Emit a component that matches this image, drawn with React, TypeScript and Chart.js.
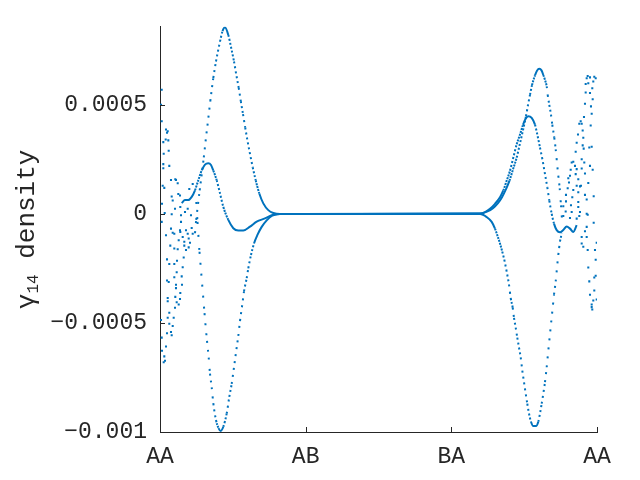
import React, { useEffect, useRef } from "react";
import { Chart, registerables } from "chart.js";

Chart.register(...registerables);

// ---------- axis / tick data ----------
const xTickValues = [0, 1, 2, 3];
const xTickLabels = ["AA", "AB", "BA", "AA"];
const yTickValues = [-0.001, -0.0005, 0, 0.0005];
const yTickLabels = ["\u22120.001", "\u22120.0005", "0", "0.0005"];
const xRange = [0, 3];
const yRange = [-0.001, 8.59e-4];

// ---------- branch 1 (largest positive excursions) ----------
const upperX = [
  0.2403, 0.2485, 0.2588, 0.2725, 0.287, 0.3007, 0.3158, 0.3295, 0.3453, 0.3659,
  0.3844, 0.4119, 0.4291, 0.4462, 0.4689, 0.4895, 0.508, 0.5238, 0.5403, 0.5547,
  0.5698, 0.5849, 0.6007, 0.6178, 0.6364, 0.657, 0.6817, 0.7091, 0.7435, 0.7778, 0.8238,
  2.1968, 2.2448, 2.286, 2.3203, 2.3478, 2.3752, 2.3993, 2.4233, 2.4487, 2.4679,
  2.4954, 2.5125, 2.5263, 2.54, 2.5537, 2.5743, 2.588, 2.6038, 2.6189, 2.6313,
  2.643, 2.6546, 2.6615, 2.6725, 2.6841, 2.6931, 2.7068, 2.7164, 2.7253, 2.7343,
  2.7439, 2.7528, 2.7576, 2.7631,
];
const upperY = [
  -0.88e-4, -0.27e-4, 0.33e-4, 1.09e-4, 1.85e-4, 2.6e-4, 3.51e-4, 4.27e-4, 5.18e-4, 6.24e-4,
  7.0e-4, 7.91e-4, 8.39e-4, 8.57e-4, 8.21e-4, 7.6e-4, 7.0e-4, 6.39e-4, 5.79e-4, 5.18e-4,
  4.58e-4, 3.97e-4, 3.36e-4, 2.76e-4, 2.15e-4, 1.55e-4, 0.94e-4, 0.49e-4, 0.18e-4, 0.05e-4, 0,
  0.02e-4, 0.11e-4, 0.27e-4, 0.5e-4, 0.77e-4, 1.14e-4, 1.53e-4, 2.05e-4, 2.59e-4, 3.14e-4,
  3.95e-4, 4.49e-4, 5.0e-4, 5.47e-4, 5.91e-4, 6.36e-4, 6.57e-4, 6.66e-4, 6.59e-4, 6.38e-4,
  6.15e-4, 5.86e-4, 5.47e-4, 5.01e-4, 4.56e-4, 4.1e-4, 3.5e-4, 2.97e-4, 2.36e-4, 1.76e-4,
  1.18e-4, 0.4e-4, -0.06e-4, -0.45e-4,
];

// ---------- branch 2 (medium excursions) ----------
const middleX = [
  0.149, 0.1716, 0.1943, 0.2176, 0.2403, 0.2629, 0.2863, 0.3089, 0.3316, 0.3501,
  0.3659, 0.3892, 0.4119, 0.4346, 0.4689, 0.5032, 0.5375, 0.5718, 0.6178, 0.6638,
  0.7208, 0.7668, 0.8238,
  2.1968, 2.2311, 2.2654, 2.2997, 2.334, 2.3567, 2.38, 2.4027, 2.4254, 2.4487,
  2.4714, 2.492, 2.5091, 2.5283, 2.5516, 2.5743, 2.5901, 2.6086, 2.6272, 2.643,
  2.6588, 2.6725, 2.689, 2.7048, 2.7233, 2.7459, 2.7686, 2.7919, 2.8146, 2.8373, 2.8606,
];
const middleY = [
  0.5e-4, 0.64e-4, 0.64e-4, 0.79e-4, 1.09e-4, 1.55e-4, 2.0e-4, 2.27e-4, 2.33e-4, 2.25e-4,
  2.0e-4, 1.55e-4, 0.95e-4, 0.33e-4, -0.27e-4, -0.65e-4, -0.76e-4, -0.76e-4, -0.58e-4, -0.35e-4,
  -0.2e-4, -0.05e-4, 0,
  0.02e-4, 0.09e-4, 0.24e-4, 0.47e-4, 0.77e-4, 1.08e-4, 1.53e-4, 1.99e-4, 2.59e-4, 3.2e-4,
  3.65e-4, 4.09e-4, 4.36e-4, 4.49e-4, 4.41e-4, 4.1e-4, 3.65e-4, 3.05e-4, 2.44e-4, 1.83e-4,
  1.23e-4, 0.62e-4, 0.01e-4, -0.44e-4, -0.74e-4, -0.84e-4, -0.73e-4, -0.57e-4, -0.67e-4, -0.82e-4, -0.51e-4,
];

// ---------- branch 3 (largest negative excursions) ----------
const lowerX = [
  0.2492, 0.2574, 0.2643, 0.2712, 0.2794, 0.2883, 0.2973, 0.3055, 0.3137, 0.3227,
  0.3343, 0.3432, 0.3549, 0.3659, 0.3844, 0.4016, 0.4167, 0.4346, 0.4579, 0.4757,
  0.4922, 0.508, 0.5217, 0.5375, 0.5492, 0.565, 0.5767, 0.5952, 0.6062, 0.6247,
  0.6453, 0.668, 0.6981, 0.7325, 0.7668, 0.7895, 0.8238,
  2.1968, 2.2428, 2.2771, 2.2997, 2.3155, 2.334, 2.3498, 2.3636, 2.38, 2.3958,
  2.4075, 2.4213, 2.4302, 2.4418, 2.4528, 2.4645, 2.4762, 2.4872, 2.4988, 2.5105,
  2.5215, 2.5331, 2.5468, 2.5626, 2.5812, 2.597, 2.6086, 2.6203, 2.6313, 2.643,
  2.6546, 2.6656, 2.6773, 2.6862, 2.6958, 2.7048, 2.7164, 2.7274, 2.7343, 2.7459, 2.7576,
];
const lowerY = [
  0.55e-4, -0.36e-4, -1.05e-4, -1.73e-4, -2.41e-4, -3.14e-4, -3.86e-4, -4.55e-4, -5.18e-4, -5.82e-4,
  -6.59e-4, -7.32e-4, -7.95e-4, -8.68e-4, -9.45e-4, -9.82e-4, -9.95e-4, -9.76e-4, -9.15e-4, -8.39e-4,
  -7.79e-4, -7.03e-4, -6.35e-4, -5.59e-4, -4.91e-4, -4.15e-4, -3.55e-4, -2.94e-4, -2.49e-4, -1.88e-4,
  -1.35e-4, -0.97e-4, -0.59e-4, -0.29e-4, -0.09e-4, -0.03e-4, 0,
  0, -0.14e-4, -0.36e-4, -0.67e-4, -0.97e-4, -1.35e-4, -1.73e-4, -2.1e-4, -2.64e-4, -3.24e-4,
  -3.85e-4, -4.3e-4, -4.76e-4, -5.21e-4, -5.67e-4, -6.12e-4, -6.58e-4, -7.18e-4, -7.71e-4, -8.24e-4,
  -8.7e-4, -9.15e-4, -9.53e-4, -9.73e-4, -9.73e-4, -9.53e-4, -9.15e-4, -8.7e-4, -8.24e-4, -7.71e-4,
  -7.03e-4, -6.27e-4, -5.51e-4, -4.91e-4, -4.3e-4, -3.7e-4, -3.09e-4, -2.33e-4, -1.88e-4, -1.27e-4, -0.9e-4,
];

// ---------- scattered samples near the path ends ----------
const leftScatterX = [
  0.0117, 0.0069, 0.0117, 0.0412, 0.0529, 0.0481, 0.057, 0.0227, 0.0391, 0.0597,
  0.0254, 0.0227, 0.0227, 0.0638, 0.0755, 0.105, 0.1098, 0.1215, 0.0185, 0.0295,
  0.1256, 0.0803, 0.0872, 0.0137, 0.1394, 0.103, 0.1902, 0.1716, 0.0323, 0.1442,
  0.0803, 0.2128, 0.1442, 0.0117, 0.0755, 0.1394, 0.1902, 0.0982, 0.0412, 0.2245,
  0.2011, 0.2245, 0.1373, 0.1373, 0.1785, 0.2176, 0.0872, 0.1558, 0.197, 0.1284,
  0.1668, 0.2059, 0.0707, 0.1668, 0.0982, 0.1215, 0.1785, 0.197, 0.1627, 0.0481,
  0.1167, 0.0638, 0.0982, 0.1558, 0.1146, 0.0982, 0.149, 0.0481, 0.0597, 0.1098,
  0.151, 0.1098, 0.1394, 0.0529, 0.105, 0.1373, 0.0529, 0.1146, 0.1284, 0.103,
  0.0638, 0.0069, 0.0529, 0.094, 0.0638, 0.0872, 0.0755, 0.0481, 0.0803, 0.0117,
  0.0412, 0.0137, 0.0295, 0.0343, 0.0254,
];
const leftScatterY = [
  5.7e-4, 5.01e-4, 4.26e-4, 3.88e-4, 3.8e-4, 3.73e-4, 3.38e-4, 3.3e-4, 3.42e-4, 2.9e-4,
  2.77e-4, 2.29e-4, 2.1e-4, 2.21e-4, 1.56e-4, 1.6e-4, 1.56e-4, 1.41e-4, 1.3e-4, 1.2e-4,
  0.92e-4, 0.8e-4, 0.62e-4, 0.47e-4, 0.32e-4, 0.24e-4, 0.24e-4, 0.09e-4, 0.05e-4, -0.06e-4,
  -0.01e-4, -0.06e-4, -0.36e-4, -0.36e-4, -0.67e-4, -0.82e-4, -0.9e-4, -0.9e-4, -0.97e-4, -0.9e-4,
  1.15e-4, 1.38e-4, 0.85e-4, -0.74e-4, -0.74e-4, -0.64e-4, -0.86e-4, -1.05e-4, -1.12e-4, -1.2e-4,
  -1.27e-4, -1.32e-4, -1.45e-4, -1.45e-4, -1.58e-4, -1.62e-4, -1.65e-4, -1.53e-4, -1.99e-4, -2.08e-4,
  -2.14e-4, -2.29e-4, -2.29e-4, -2.44e-4, -2.67e-4, -2.9e-4, -2.86e-4, -3.05e-4, -3.12e-4, -3.24e-4,
  -3.24e-4, -3.4e-4, -3.62e-4, -3.85e-4, -3.8e-4, -3.9e-4, -4.0e-4, -4.05e-4, -4.15e-4, -4.3e-4,
  -4.53e-4, -4.86e-4, -4.76e-4, -4.76e-4, -5.03e-4, -5.14e-4, -5.41e-4, -5.47e-4, -5.56e-4, -5.67e-4,
  -6.08e-4, -6.27e-4, -6.53e-4, -6.73e-4, -6.8e-4,
];

const rightScatterX = [
  2.9361, 2.9292, 2.9519, 2.9814, 2.991, 2.9745, 2.9402, 2.9223, 2.9676, 2.9519,
  2.9223, 2.9704, 2.9175, 2.9587, 2.9635, 2.9107, 2.888, 2.8784, 2.8949, 2.9567,
  2.9017, 2.8695, 2.9059, 2.8605, 2.9017, 2.9635, 2.947, 2.9086, 2.8537, 2.8949,
  2.9127, 2.8372, 2.8262, 2.8489, 2.9519, 2.8194, 2.8949, 2.9704, 2.8605, 2.9175,
  2.8146, 2.8537, 2.8715, 2.8029, 2.8077, 2.8901, 2.8605, 2.9402, 2.7988, 2.8372,
  2.8832, 2.7871, 2.8303, 2.8715, 2.9175, 2.9773, 2.7871, 2.8214, 2.8715, 2.9292,
  2.7686, 2.785, 2.8262, 2.8715, 2.8832, 2.9292, 2.9361, 2.7686, 2.8146, 2.8605,
  2.8784, 2.9773, 2.9292, 2.9175, 2.8949, 2.9292, 2.9978, 2.8949, 2.9059, 2.9361,
  2.9862, 2.991, 2.9402, 2.991, 2.9814, 2.947, 2.9814, 2.9519, 2.9978, 2.9745,
  2.9635, 2.9635, 2.9676,
];
const rightScatterY = [
  6.33e-4, 6.23e-4, 6.27e-4, 6.3e-4, 6.23e-4, 6.08e-4, 6.0e-4, 5.97e-4, 5.77e-4, 5.55e-4,
  5.58e-4, 5.27e-4, 5.06e-4, 4.94e-4, 4.6e-4, 4.45e-4, 4.26e-4, 4.14e-4, 4.14e-4, 4.06e-4,
  3.83e-4, 3.65e-4, 3.5e-4, 3.27e-4, 3.15e-4, 3.09e-4, 3.05e-4, 3.0e-4, 2.86e-4, 2.51e-4,
  2.36e-4, 2.4e-4, 2.36e-4, 2.21e-4, 2.21e-4, 2.03e-4, 2.09e-4, 2.03e-4, 2.06e-4, 1.86e-4,
  1.76e-4, 1.83e-4, 1.6e-4, 1.64e-4, 1.45e-4, 1.3e-4, 1.3e-4, 1.42e-4, 1.18e-4, 1.1e-4,
  1.27e-4, 0.88e-4, 0.77e-4, 1.0e-4, 0.88e-4, 0.82e-4, 0.58e-4, 0.4e-4, 0.55e-4, 0.67e-4,
  0.36e-4, 0.12e-4, 0.09e-4, 0.32e-4, 0.09e-4, 0.01e-4, -0.03e-4, -0.09e-4, -0.18e-4, -0.21e-4,
  -0.09e-4, -0.4e-4, -0.59e-4, -0.79e-4, -1.05e-4, -1.05e-4, -1.32e-4, -1.35e-4, -1.5e-4, -1.65e-4,
  -1.65e-4, -2.1e-4, -2.45e-4, -2.83e-4, -2.91e-4, -3.09e-4, -3.51e-4, -3.7e-4, -3.92e-4, -3.97e-4,
  -4.15e-4, -4.27e-4, -4.38e-4,
];

// ---------- styling ----------
const BLUE = "#0072BD";
const AXIS = "#262626";
const FONT_FAMILY = '"Liberation Mono", "Courier New", monospace';

const zip = (xs: number[], ys: number[]) => {
  const n = Math.min(xs.length, ys.length);
  const out: { x: number; y: number }[] = [];
  for (let i = 0; i < n; i++) out.push({ x: xs[i], y: ys[i] });
  return out;
};

// dotted look: denser on flat parts, sparser on steep parts
const dashBySlope = (ctx: any) => {
  const dx = Math.abs(ctx.p1.x - ctx.p0.x);
  const dy = Math.abs(ctx.p1.y - ctx.p0.y);
  const len = Math.hypot(dx, dy);
  const spacing = dx > 0.01 ? (len / dx) * 0.9 : 6;
  const gap = Math.round(spacing - 2);
  return gap >= 1 ? [2, gap] : undefined;
};

const tickMarks = {
  id: "tickMarks",
  afterDraw(chart: any) {
    const { ctx, chartArea, scales } = chart;
    ctx.save();
    ctx.strokeStyle = AXIS;
    ctx.lineWidth = 1;
    ctx.beginPath();
    yTickValues.forEach((v) => {
      const y = Math.round(scales.y.getPixelForValue(v)) + 0.5;
      ctx.moveTo(chartArea.left, y);
      ctx.lineTo(chartArea.left + 5, y);
    });
    xTickValues.forEach((v) => {
      const x = Math.round(scales.x.getPixelForValue(v)) + 0.5;
      ctx.moveTo(x, chartArea.bottom);
      ctx.lineTo(x, chartArea.bottom - 5);
    });
    ctx.stroke();
    ctx.restore();
  },
};

const yTitle = {
  id: "yTitle",
  afterDraw(chart: any) {
    const { ctx, chartArea } = chart;
    const parts = [
      { t: "\u03b3", f: `26px ${FONT_FAMILY}`, dy: 0 },
      { t: "14", f: `16px ${FONT_FAMILY}`, dy: 4.8 },
      { t: " density", f: `26px ${FONT_FAMILY}`, dy: 0 },
    ];
    ctx.save();
    let total = 0;
    const widths = parts.map((p) => {
      ctx.font = p.f;
      const w = ctx.measureText(p.t).width;
      total += w;
      return w;
    });
    ctx.translate(33.5, (chartArea.top + chartArea.bottom) / 2);
    ctx.rotate(-Math.PI / 2);
    ctx.fillStyle = AXIS;
    ctx.textAlign = "left";
    ctx.textBaseline = "alphabetic";
    let x = -total / 2;
    parts.forEach((p, i) => {
      ctx.font = p.f;
      ctx.fillText(p.t, x, p.dy);
      x += widths[i];
    });
    ctx.restore();
  },
};

export default function App() {
  const canvasRef = useRef<HTMLCanvasElement | null>(null);

  useEffect(() => {
    document.body.style.margin = "0";
    const canvas = canvasRef.current;
    if (!canvas) return;

    const lineDataset = (label: string, xs: number[], ys: number[]) => ({
      label,
      data: zip(xs, ys),
      showLine: true,
      borderColor: BLUE,
      backgroundColor: BLUE,
      borderWidth: 2,
      borderCapStyle: "butt",
      pointRadius: 0,
      pointHoverRadius: 0,
      cubicInterpolationMode: "monotone",
      segment: { borderDash: dashBySlope },
    });

    const scatterDataset = (label: string, xs: number[], ys: number[]) => ({
      label,
      data: zip(xs, ys),
      showLine: false,
      pointStyle: "rect",
      pointRadius: 1.45,
      pointBorderWidth: 0,
      pointBackgroundColor: BLUE,
      backgroundColor: BLUE,
      borderColor: BLUE,
    });

    const tickFont = { family: FONT_FAMILY, size: 23 };

    const chart = new Chart(canvas, {
      type: "scatter",
      data: {
        datasets: [
          lineDataset("branch 1", upperX, upperY),
          lineDataset("branch 2", middleX, middleY),
          lineDataset("branch 3", lowerX, lowerY),
          scatterDataset("left samples", leftScatterX, leftScatterY),
          scatterDataset("right samples", rightScatterX, rightScatterY),
        ] as any,
      },
      options: {
        responsive: false,
        animation: false,
        devicePixelRatio: 1,
        events: [],
        layout: { padding: { left: 0, right: 43, top: 23, bottom: 0 } },
        plugins: {
          legend: { display: false },
          tooltip: { enabled: false },
          title: { display: false },
        },
        scales: {
          x: {
            type: "linear",
            min: xRange[0],
            max: xRange[1],
            afterBuildTicks: (scale: any) => {
              scale.ticks = xTickValues.map((v) => ({ value: v }));
            },
            afterFit: (scale: any) => {
              scale.height = 48;
            },
            ticks: {
              autoSkip: false,
              maxRotation: 0,
              minRotation: 0,
              padding: 11,
              color: AXIS,
              font: tickFont,
              callback: (_v: any, i: number) => xTickLabels[i],
            },
            grid: { display: false, drawTicks: false },
            border: { display: true, color: AXIS, width: 1 },
          },
          y: {
            type: "linear",
            min: yRange[0],
            max: yRange[1],
            afterBuildTicks: (scale: any) => {
              scale.ticks = yTickValues.map((v) => ({ value: v }));
            },
            afterFit: (scale: any) => {
              scale.width = 160;
            },
            ticks: {
              autoSkip: false,
              padding: 13,
              color: AXIS,
              font: tickFont,
              callback: (_v: any, i: number) => yTickLabels[i],
            },
            grid: { display: false, drawTicks: false },
            border: { display: true, color: AXIS, width: 1 },
          },
        },
      } as any,
      plugins: [tickMarks, yTitle],
    });

    return () => {
      chart.destroy();
    };
  }, []);

  return (
    <div style={{ width: 640, height: 480 }}>
      <canvas ref={canvasRef} width={640} height={480} style={{ display: "block" }} />
    </div>
  );
}
